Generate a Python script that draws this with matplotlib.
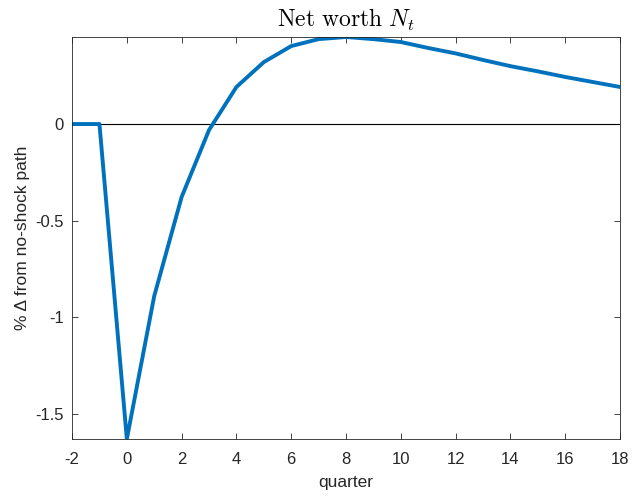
import numpy as np
import matplotlib.pyplot as plt

# quarters and response of net worth (% deviation)
quarters = list(range(-2, 19))
net_worth = [0.0, 0.0, -1.632, -0.891, -0.378, -0.031, 0.192, 0.321, 0.404, 0.440,
             0.451, 0.440, 0.425, 0.394, 0.366, 0.332, 0.300, 0.273, 0.244, 0.218, 0.192]
xticks = list(range(-2, 19, 2))
yticks = [-1.5, -1, -0.5, 0]
ytick_labels = ['-1.5', '-1', '-0.5', '0']

plt.rcParams['font.family'] = ['Liberation Sans', 'DejaVu Sans']
plt.rcParams['mathtext.fontset'] = 'cm'

fig = plt.figure(figsize=(6.32, 5), dpi=100)
ax = fig.add_axes([0.114, 0.122, 0.867, 0.804])

ax.axhline(0, color='black', linewidth=0.8)
ax.plot(quarters, net_worth, color='#0072BD', linewidth=2.8)

ax.set_xlim(-2, 18)
ax.set_ylim(min(net_worth), max(net_worth))
ax.set_xticks(xticks)
ax.set_xticklabels([str(t) for t in xticks])
ax.set_yticks(yticks)
ax.set_yticklabels(ytick_labels)

ax.tick_params(direction='in', top=True, right=True, length=4, width=0.6,
               labelsize=12, colors='#262626')
ax.tick_params(axis='x', pad=9)
ax.tick_params(axis='y', pad=6)
for s in ax.spines.values():
    s.set_color('#262626')
    s.set_linewidth(0.6)

ax.set_title(r'$\mathrm{Net\ worth}\ N_t$', fontsize=17, pad=7)
ax.set_xlabel('quarter', fontsize=12.5, color='#262626', labelpad=6)
ax.set_ylabel('% Δ from no-shock path', fontsize=12.5, color='#262626', labelpad=4)

fig.savefig('out.png', dpi=100)
